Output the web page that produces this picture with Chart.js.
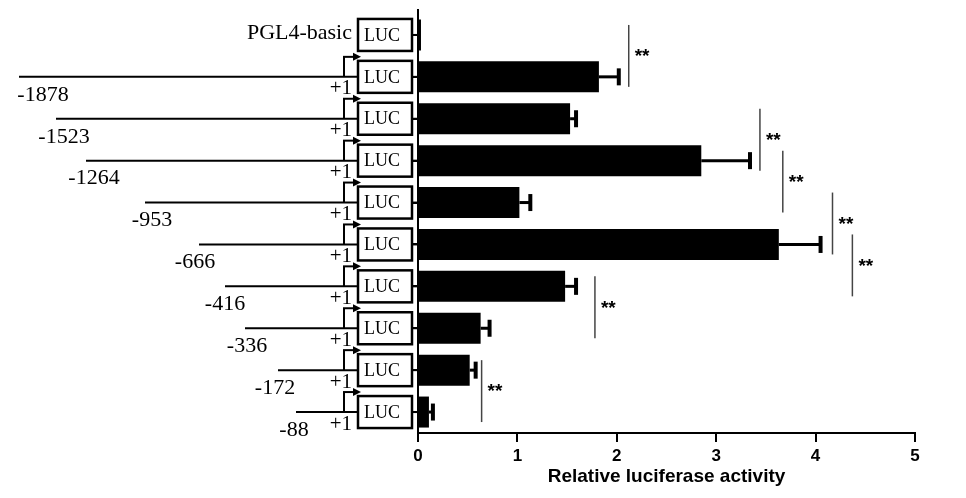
<!DOCTYPE html>
<html>
<head>
<meta charset="utf-8">
<script src="https://cdn.jsdelivr.net/npm/chart.js@4/dist/chart.umd.min.js"></script>
<style>
  html, body { margin: 0; padding: 0; background: #fff; }
  canvas { display: block; }
</style>
</head>
<body>
<canvas id="lucChart" width="966" height="498"></canvas>
<script>
// constructs (promoter start relative to +1) and luciferase readout
const categories = ['PGL4-basic', '-1878', '-1523', '-1264', '-953', '-666', '-416', '-336', '-172', '-88'];
const activity = [0.03, 1.82, 1.53, 2.85, 1.02, 3.63, 1.48, 0.63, 0.52, 0.11];
const errors = [0, 0.20, 0.06, 0.49, 0.11, 0.42, 0.11, 0.09, 0.06, 0.04];
const xTicks = [0, 1, 2, 3, 4, 5];

// significance brackets: pair of rows, x value where the bracket sits
const sigPairs = [[0, 1], [2, 3], [3, 4], [4, 5], [5, 6], [6, 7], [8, 9]];
const sigAt = [2.12, 3.44, 3.67, 4.17, 4.37, 1.78, 0.64];

// schematic layout of the promoter drawings (pixels from the left edge)
const lineStart = [19, 56, 86, 145, 199, 225, 245, 278, 296];
const labelCenter = [43, 64, 94, 152, 195, 225, 247, 275, 294];

function seg(ctx, x1, y1, x2, y2) {
    ctx.beginPath();
    ctx.moveTo(x1, y1);
    ctx.lineTo(x2, y2);
    ctx.stroke();
}

const extras = {
    id: 'extras',
    afterDraw(chart) {
        const ctx = chart.ctx;
        const x = chart.scales.x, y = chart.scales.y;
        const x0 = x.getPixelForValue(0);
        ctx.save();
        ctx.strokeStyle = '#000';
        ctx.fillStyle = '#000';

        // axis line runs a bit above the top row
        ctx.lineWidth = 2;
        seg(ctx, x0, chart.chartArea.top - 5, x0, chart.chartArea.top + 1);

        // error bars
        activity.forEach((v, i) => {
            if (!errors[i]) return;
            const yc = y.getPixelForValue(i);
            const xa = x.getPixelForValue(v);
            const xb = x.getPixelForValue(v + errors[i]);
            ctx.lineWidth = 3;
            seg(ctx, xa, yc, xb, yc);
            ctx.lineWidth = 4;
            seg(ctx, xb, yc - 8.5, xb, yc + 8.5);
        });

        // significance lines and stars
        sigPairs.forEach((p, k) => {
            const xs = x.getPixelForValue(sigAt[k]);
            const ya = y.getPixelForValue(p[0]);
            const yb = y.getPixelForValue(p[1]);
            ctx.strokeStyle = '#444';
            ctx.lineWidth = 1.5;
            seg(ctx, xs, ya - 10, xs, yb + 10);
            ctx.fillStyle = '#000';
            ctx.font = 'bold 19px "Liberation Sans", Arial, sans-serif';
            ctx.textAlign = 'left';
            ctx.textBaseline = 'middle';
            ctx.fillText('**', xs + 6, (ya + yb) / 2 + 1);
        });

        // construct drawings left of the axis
        ctx.strokeStyle = '#000';
        ctx.fillStyle = '#000';
        categories.forEach((c, i) => {
            const yc = y.getPixelForValue(i);
            const boxL = x0 - 60, boxR = x0 - 6;
            // box + connector to axis
            ctx.lineWidth = 2.5;
            ctx.strokeRect(boxL, yc - 16, boxR - boxL, 32);
            ctx.lineWidth = 2;
            seg(ctx, boxR, yc, x0, yc);
            ctx.font = '18px "Liberation Serif", "Times New Roman", serif';
            ctx.textAlign = 'left';
            ctx.textBaseline = 'middle';
            ctx.fillText('LUC', boxL + 6, yc + 1);

            if (i === 0) {
                ctx.font = '22px "Liberation Serif", "Times New Roman", serif';
                ctx.textAlign = 'right';
                ctx.fillText(c, x0 - 66, yc - 2);
                return;
            }
            const xs = lineStart[i - 1];
            const tss = x0 - 74;
            ctx.lineWidth = 2;
            seg(ctx, xs, yc, boxL, yc);
            // transcription start arrow
            seg(ctx, tss, yc, tss, yc - 20);
            seg(ctx, tss - 1, yc - 20, x0 - 62, yc - 20);
            ctx.beginPath();
            ctx.moveTo(x0 - 57, yc - 20);
            ctx.lineTo(x0 - 65, yc - 24);
            ctx.lineTo(x0 - 65, yc - 16);
            ctx.closePath();
            ctx.fill();
            // labels
            ctx.font = '21px "Liberation Serif", "Times New Roman", serif';
            ctx.textAlign = 'right';
            ctx.fillText('+1', x0 - 66, yc + 12);
            ctx.font = '22px "Liberation Serif", "Times New Roman", serif';
            ctx.textAlign = 'center';
            ctx.fillText(c, labelCenter[i - 1], yc + 18);
        });
        ctx.restore();
    }
};

const ctx = document.getElementById('lucChart').getContext('2d');
new Chart(ctx, {
    type: 'bar',
    data: {
        labels: categories,
        datasets: [{
            label: 'Relative luciferase activity',
            data: activity,
            backgroundColor: '#000',
            borderWidth: 0,
            categoryPercentage: 1,
            barPercentage: 0.74
        }]
    },
    options: {
        indexAxis: 'y',
        responsive: false,
        animation: false,
        devicePixelRatio: 1,
        layout: { padding: { left: 0, right: 51, top: 14, bottom: 0 } },
        plugins: {
            legend: { display: false },
            tooltip: { enabled: false }
        },
        scales: {
            x: {
                min: 0,
                max: 5,
                afterBuildTicks: s => { s.ticks = xTicks.map(v => ({ value: v })); },
                afterFit: s => { s.height = 65; },
                border: { display: true, color: '#000', width: 2 },
                grid: { drawOnChartArea: false, drawTicks: true, tickLength: 9, color: '#000', lineWidth: 2 },
                ticks: {
                    color: '#000',
                    padding: 4,
                    font: { family: '"Liberation Sans", Arial, sans-serif', size: 17, weight: 'bold' }
                },
                title: {
                    display: true,
                    text: 'Relative luciferase activity',
                    color: '#000',
                    padding: { top: 0, bottom: 10 },
                    font: { family: '"Liberation Sans", Arial, sans-serif', size: 19, weight: 'bold' }
                }
            },
            y: {
                afterFit: s => { s.width = 418; },
                border: { display: true, color: '#000', width: 2 },
                grid: { offset: false, drawOnChartArea: false, drawTicks: true, tickLength: 6, color: '#000', lineWidth: 2 },
                ticks: { display: false }
            }
        }
    },
    plugins: [extras]
});
</script>
</body>
</html>
